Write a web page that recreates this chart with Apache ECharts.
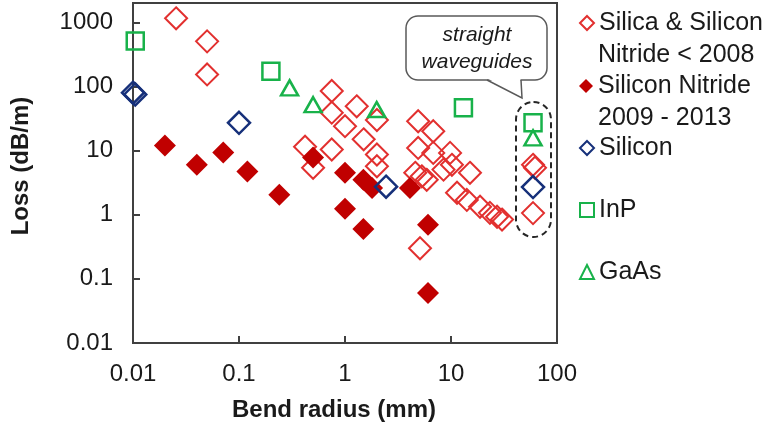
<!DOCTYPE html>
<html>
<head>
<meta charset="utf-8">
<script src="https://cdn.jsdelivr.net/npm/echarts@6/dist/echarts.min.js"></script>
<style>
html,body{margin:0;padding:0;background:#fff;}
#chart{width:773px;height:429px;}
</style>
</head>
<body>
<div id="chart"></div>
<script>
// ---- data (bend radius in mm, loss in dB/m) ----
const silicaX = [0.0255, 0.05, 0.05, 0.42, 0.5, 0.75, 0.75, 1.29, 1.0, 2.0, 1.5, 0.75, 2.0, 2.0, 4.9, 6.8, 4.9, 6.8, 9.8, 4.6, 5.3, 5.9, 8.5, 10.2, 15.1, 11.4, 14.1, 18.8, 23.3, 27.2, 30.3, 5.1, 59.4, 62, 59.4];
const silicaY = [1155, 505, 154, 11.5, 5.4, 85, 39, 49, 24, 30, 15, 10.4, 8.7, 5.7, 28.7, 20, 11, 9.2, 9.2, 4.5, 3.97, 3.5, 5.05, 6.0, 4.5, 2.2, 1.7, 1.33, 1.07, 0.93, 0.84, 0.30, 6.0, 5.4, 1.06];
const sinX = [0.020, 0.040, 0.071, 0.12, 0.24, 0.50, 1.0, 1.49, 1.8, 4.1, 1.0, 1.49, 6.07, 6.07];
const sinY = [12.0, 6.0, 9.3, 4.7, 2.05, 7.8, 4.5, 3.5, 2.6, 2.6, 1.24, 0.60, 0.70, 0.060];
const siX = [0.01, 0.0105, 0.1, 2.44, 59.4];
const siY = [80, 75, 27.1, 2.74, 2.7];
const inpX = [0.0105, 0.20, 13.1, 59.4];
const inpY = [510, 173, 46.5, 27.1];
const gaasX = [0.30, 0.50, 1.99, 59.4];
const gaasY = [95, 52, 43.7, 15.8];
const tickLabels = ['0.01', '0.1', '1', '10', '100', '1000'];
const seriesNames = ['Silica & Silicon Nitride < 2008', 'Silicon Nitride 2009 - 2013', 'Silicon', 'InP', 'GaAs'];
const legendLines = [['Silica & Silicon', 'Nitride < 2008'], ['Silicon Nitride', '2009 - 2013'], ['Silicon'], ['InP'], ['GaAs']];

const pairs = (xs, ys) => xs.map((x, i) => [x, ys[i]]);
const FONT = "'Liberation Sans', Arial, sans-serif";
const AX = '#404040';
const RED_OPEN = '#E2302F', RED_FILL = '#C00000', BLUE = '#16307A', GREEN = '#18B24A';

function fmt(v) {
  const l = Math.log10(v);
  if (Math.abs(l - Math.round(l)) > 1e-6) return '';
  const idx = Math.round(l) + 2;
  return tickLabels[idx] !== undefined ? tickLabels[idx] : '';
}

const chart = echarts.init(document.getElementById('chart'), null, {renderer: 'canvas'});

const legendRows = [23, 86, 148, 210, 272];
const legends = seriesNames.map((n, i) => ({
  data: [n],
  left: 579,
  top: legendRows[i] - 14,
  padding: 0,
  itemWidth: 14,
  itemHeight: 14,
  selectedMode: false,
  formatter: () => legendLines[i][0],
  textStyle: {fontFamily: FONT, fontSize: 25, color: '#1a1a1a', lineHeight: 28}
}));

const graphics = [];
legendLines.forEach((ln, i) => {
  if (ln[1]) graphics.push({
    type: 'text', x: 598, y: legendRows[i] + 32,
    style: {text: ln[1], font: '25px ' + FONT, fill: '#1a1a1a', textVerticalAlign: 'middle'}
  });
});
graphics.push(
  {type: 'rect', z: 10, shape: {x: 406, y: 16, width: 141, height: 64, r: 12},
   style: {fill: '#fff', stroke: '#595959', lineWidth: 1.5}},
  {type: 'polygon', z: 11, shape: {points: [[488, 78.8], [520.4, 78.8], [521.7, 96.5]]},
   style: {fill: '#fff', stroke: null}},
  {type: 'polyline', z: 12, shape: {points: [[487, 80], [522, 98], [521, 80]]},
   style: {fill: null, stroke: '#595959', lineWidth: 1.5}},
  {type: 'text', z: 13, x: 477, y: 35,
   style: {text: 'straight', font: 'italic 21px ' + FONT, fill: '#1a1a1a', textAlign: 'center', textVerticalAlign: 'middle'}},
  {type: 'text', z: 13, x: 477, y: 62,
   style: {text: 'waveguides', font: 'italic 21px ' + FONT, fill: '#1a1a1a', textAlign: 'center', textVerticalAlign: 'middle'}},
  {type: 'rect', z: 10, shape: {x: 516, y: 102, width: 35, height: 135, r: 17.5},
   style: {fill: null, stroke: '#262626', lineWidth: 2, lineDash: [6, 4]}}
);

const option = {
  animation: false,
  backgroundColor: '#fff',
  grid: {left: 133, right: 216, top: 3, bottom: 86, show: true, borderColor: AX, borderWidth: 2, backgroundColor: 'transparent'},
  legend: legends,
  xAxis: {
    type: 'log', logBase: 10, min: 0.01, max: 100,
    name: 'Bend radius (mm)', nameLocation: 'middle', nameGap: 55,
    nameTextStyle: {fontFamily: FONT, fontSize: 24, fontWeight: 'bold', color: '#1a1a1a', padding: [0, 22, 0, 0]},
    axisLine: {lineStyle: {color: AX, width: 2}},
    axisTick: {inside: true, length: 7, lineStyle: {color: AX, width: 2}},
    axisLabel: {fontFamily: FONT, fontSize: 24, color: '#1a1a1a', margin: 19, formatter: fmt},
    splitLine: {show: false}, minorTick: {show: false}
  },
  yAxis: {
    type: 'log', logBase: 10, min: 0.01, max: 2000,
    name: 'Loss (dB/m)', nameLocation: 'middle', nameGap: 100, nameRotate: 90,
    nameTextStyle: {fontFamily: FONT, fontSize: 24, fontWeight: 'bold', color: '#1a1a1a', padding: [0, 0, 0, 14]},
    axisLine: {lineStyle: {color: AX, width: 2}},
    axisTick: {inside: true, length: 7, lineStyle: {color: AX, width: 2}},
    axisLabel: {fontFamily: FONT, fontSize: 24, color: '#1a1a1a', margin: 20, formatter: fmt, showMaxLabel: false},
    splitLine: {show: false}, minorTick: {show: false}
  },
  series: [
    {name: seriesNames[0], type: 'scatter', symbol: 'diamond', symbolSize: 22, data: pairs(silicaX, silicaY),
     itemStyle: {color: 'rgba(255,255,255,0)', borderColor: RED_OPEN, borderWidth: 2, opacity: 1}, z: 2},
    {name: seriesNames[1], type: 'scatter', symbol: 'diamond', symbolSize: 22, data: pairs(sinX, sinY),
     itemStyle: {color: RED_FILL, opacity: 1}, z: 3},
    {name: seriesNames[2], type: 'scatter', symbol: 'diamond', symbolSize: 22, data: pairs(siX, siY),
     itemStyle: {color: 'rgba(255,255,255,0)', borderColor: BLUE, borderWidth: 2.5, opacity: 1}, z: 4},
    {name: seriesNames[3], type: 'scatter', symbol: 'rect', symbolSize: 17, data: pairs(inpX, inpY),
     itemStyle: {color: 'rgba(255,255,255,0)', borderColor: GREEN, borderWidth: 2.5, opacity: 1}, z: 4},
    {name: seriesNames[4], type: 'scatter', symbol: 'triangle', symbolSize: [17, 15], data: pairs(gaasX, gaasY),
     itemStyle: {color: 'rgba(255,255,255,0)', borderColor: GREEN, borderWidth: 2.5, opacity: 1}, z: 4}
  ],
  graphic: graphics
};
chart.setOption(option);
</script>
</body>
</html>
